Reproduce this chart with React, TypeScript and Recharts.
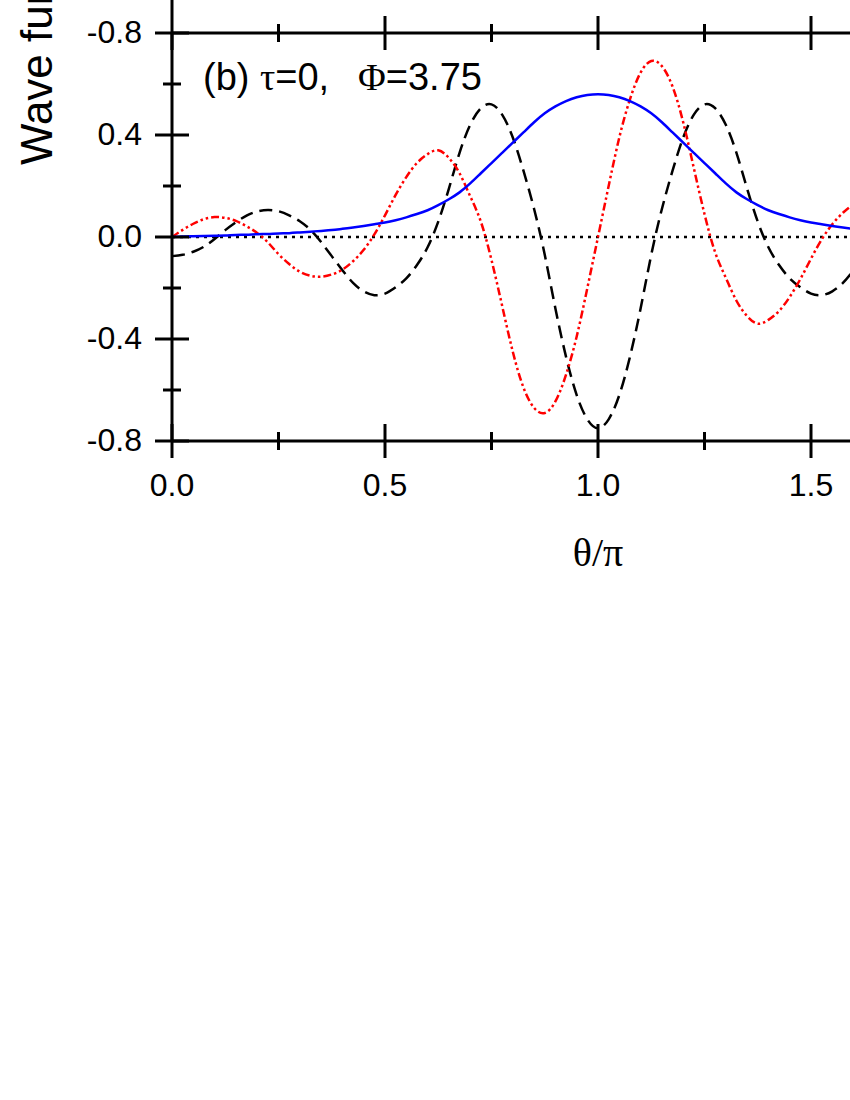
import { LineChart, Line, XAxis, YAxis, ReferenceLine } from 'recharts'

const SANS = '"Liberation Sans", Arial, sans-serif'
const SERIF = '"Liberation Serif", "Times New Roman", serif'

// theta / pi sample points
const theta = [
  0, 0.025, 0.05, 0.075, 0.1, 0.125, 0.15, 0.175, 0.2, 0.225, 0.25, 0.275, 0.3, 0.325, 0.35, 0.375,
  0.4, 0.425, 0.45, 0.475, 0.5, 0.525, 0.55, 0.575, 0.6, 0.625, 0.65, 0.675, 0.7, 0.725, 0.75, 0.775,
  0.8, 0.825, 0.85, 0.875, 0.9, 0.925, 0.95, 0.975, 1.0, 1.025, 1.05, 1.075, 1.1, 1.125, 1.15, 1.175,
  1.2, 1.225, 1.25, 1.275, 1.3, 1.325, 1.35, 1.375, 1.4, 1.425, 1.45, 1.475, 1.5, 1.525, 1.55, 1.575,
  1.6, 1.625, 1.65,
]

// solid blue
const ground = [
  0, 0.002, 0.003, 0.004, 0.005, 0.006, 0.008, 0.009, 0.011, 0.012, 0.014, 0.015, 0.018, 0.021, 0.024, 0.027,
  0.032, 0.037, 0.043, 0.05, 0.057, 0.066, 0.077, 0.09, 0.105, 0.125, 0.148, 0.175, 0.21, 0.25, 0.29, 0.33,
  0.37, 0.41, 0.45, 0.485, 0.512, 0.533, 0.548, 0.557, 0.56, 0.557, 0.548, 0.533, 0.512, 0.485, 0.45, 0.41,
  0.37, 0.33, 0.29, 0.25, 0.21, 0.175, 0.148, 0.125, 0.105, 0.09, 0.077, 0.066, 0.057, 0.05, 0.043, 0.037,
  0.032, 0.028, 0.025,
]

// red dash-dot-dot
const oddState = [
  0, 0.028, 0.052, 0.07, 0.078, 0.075, 0.063, 0.042, 0.016, -0.021, -0.067, -0.106, -0.136, -0.152, -0.156, -0.147,
  -0.128, -0.095, -0.05, 0.01, 0.085, 0.165, 0.235, 0.29, 0.325, 0.34, 0.31, 0.25, 0.16, 0.06, -0.09, -0.27,
  -0.45, -0.59, -0.67, -0.69, -0.645, -0.54, -0.39, -0.2, 0, 0.2, 0.39, 0.54, 0.645, 0.69, 0.67, 0.59,
  0.45, 0.27, 0.09, -0.06, -0.16, -0.25, -0.31, -0.34, -0.325, -0.29, -0.235, -0.165, -0.085, -0.01, 0.05, 0.095,
  0.128, 0.147, 0.156,
]

// black dashed
const evenState = [
  -0.075, -0.07, -0.058, -0.038, -0.008, 0.027, 0.058, 0.084, 0.1, 0.106, 0.101, 0.085, 0.062, 0.028, -0.02, -0.075,
  -0.13, -0.18, -0.213, -0.228, -0.222, -0.197, -0.162, -0.11, -0.04, 0.06, 0.19, 0.33, 0.44, 0.505, 0.52, 0.48,
  0.39, 0.26, 0.11, -0.07, -0.28, -0.47, -0.62, -0.715, -0.75, -0.715, -0.62, -0.47, -0.28, -0.07, 0.11, 0.26,
  0.39, 0.48, 0.52, 0.505, 0.44, 0.33, 0.19, 0.06, -0.04, -0.11, -0.162, -0.197, -0.222, -0.228, -0.213, -0.18,
  -0.13, -0.075, -0.02,
]

const xTicks = [0, 0.25, 0.5, 0.75, 1, 1.25, 1.5, 1.75, 2]
const xMajor = [0, 0.5, 1, 1.5]
const xLabels = ['0.0', '0.5', '1.0', '1.5']
const yTicks = [-0.8, -0.6, -0.4, -0.2, 0, 0.2, 0.4, 0.6, 0.8]
const yMajor = [-0.8, -0.4, 0, 0.4, 0.8]
const yLabels = ['-0.8', '-0.4', '0.0', '0.4', '-0.8']

const rows = theta.map((t, i) => ({ t, ground: ground[i], odd: oddState[i], even: evenState[i] }))

function BottomTick({ x, y, payload }: any) {
  const i = xMajor.indexOf(payload.value)
  const len = i >= 0 || payload.value === 2 ? 17 : 9
  return (
    <g>
      <line x1={x} x2={x} y1={y - len} y2={y + len} stroke="#000" strokeWidth={3} />
      {i >= 0 && (
        <text x={x} y={y + 55} textAnchor="middle" fontSize={32} fontFamily={SANS} fill="#000">
          {xLabels[i]}
        </text>
      )}
    </g>
  )
}

function TopTick({ x, y, payload }: any) {
  const major = xMajor.includes(payload.value) || payload.value === 2
  const len = major ? 17 : 9
  // the left frame carries on into the panel above
  const top = payload.value === 0 ? y - 40 : y - len
  return <line x1={x} x2={x} y1={top} y2={y + len} stroke="#000" strokeWidth={3} />
}

function LeftTick({ x, y, payload }: any) {
  const i = yMajor.indexOf(payload.value)
  const len = i >= 0 ? 17 : 9
  return (
    <g>
      <line x1={x - len} x2={x + len} y1={y} y2={y} stroke="#000" strokeWidth={3} />
      {i >= 0 && (
        <text x={x - 30} y={y + 10} textAnchor="end" fontSize={32} fontFamily={SANS} fill="#000">
          {yLabels[i]}
        </text>
      )}
    </g>
  )
}

function XTitle({ viewBox }: any) {
  return (
    <text x={viewBox.x + 426} y={viewBox.y + 125} textAnchor="middle" fontSize={40} fontFamily={SERIF} fill="#000">
      θ/π
    </text>
  )
}

function YTitle() {
  return (
    <text x={52} y={165} transform="rotate(-90 52 165)" fontSize={44} fontFamily={SANS} fill="#000">
      Wave function
    </text>
  )
}

function PanelNote() {
  return (
    <text x={203} y={90} fontSize={38} fontFamily={SANS} fill="#000">
      <tspan>(b) </tspan>
      <tspan fontFamily={SERIF}>τ</tspan>
      <tspan>=0,</tspan>
      <tspan x={358} fontFamily={SERIF}>Φ</tspan>
      <tspan>=3.75</tspan>
    </text>
  )
}

export default function App() {
  return (
    <div style={{ position: 'absolute', left: 0, top: 0, width: 850, height: 1100, overflow: 'hidden', background: '#fff' }}>
      <LineChart width={1060} height={600} data={rows} margin={{ top: 13, right: 36, left: 72, bottom: 99 }}>
        <XAxis
          xAxisId="b"
          type="number"
          dataKey="t"
          domain={[0, 2]}
          ticks={xTicks}
          interval={0}
          tickSize={0}
          tickMargin={0}
          tickLine={false}
          axisLine={{ stroke: '#000', strokeWidth: 3 }}
          tick={BottomTick}
          height={60}
          label={XTitle}
        />
        <XAxis
          xAxisId="t"
          orientation="top"
          type="number"
          dataKey="t"
          domain={[0, 2]}
          ticks={xTicks}
          interval={0}
          tickSize={0}
          tickMargin={0}
          tickLine={false}
          axisLine={{ stroke: '#000', strokeWidth: 3 }}
          tick={TopTick}
          height={20}
          label={PanelNote}
        />
        <YAxis
          type="number"
          domain={[-0.8, 0.8]}
          ticks={yTicks}
          interval={0}
          tickSize={0}
          tickMargin={0}
          tickLine={false}
          axisLine={{ stroke: '#000', strokeWidth: 3 }}
          tick={LeftTick}
          width={100}
          label={YTitle}
        />
        <ReferenceLine xAxisId="b" y={0} stroke="#000" strokeWidth={2.5} strokeDasharray="3 5" />
        <Line xAxisId="b" type="natural" dataKey="even" stroke="#000" strokeWidth={2.5} strokeDasharray="13 7" dot={false} isAnimationActive={false} />
        <Line xAxisId="b" type="natural" dataKey="odd" stroke="#ff0000" strokeWidth={2.5} strokeDasharray="8 3 2.5 3 2.5 3" dot={false} isAnimationActive={false} />
        <Line xAxisId="b" type="natural" dataKey="ground" stroke="#0000ff" strokeWidth={2.5} dot={false} isAnimationActive={false} />
      </LineChart>
    </div>
  )
}
